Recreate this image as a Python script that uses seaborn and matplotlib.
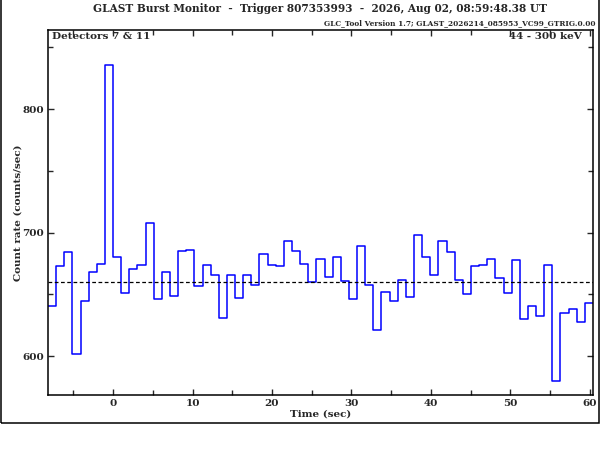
import numpy as np
import pandas as pd
import seaborn as sns
import matplotlib.pyplot as plt
from matplotlib.patches import Rectangle
from matplotlib.ticker import MultipleLocator

# bin edges (s) of the 1.024 s light curve, relative to trigger
bin_edges = [-8.192, -7.168, -6.144, -5.120, -4.096, -3.072, -2.048, -1.024,
             0.000, 1.024, 2.048, 3.072, 4.096, 5.120, 6.144, 7.168, 8.192,
             9.216, 10.240, 11.264, 12.288, 13.312, 14.336, 15.360, 16.384,
             17.408, 18.432, 19.456, 20.480, 21.504, 22.528, 23.552, 24.576,
             25.600, 26.624, 27.648, 28.672, 29.696, 30.720, 31.744, 32.768,
             33.792, 34.816, 35.840, 36.864, 37.888, 38.912, 39.936, 40.960,
             41.984, 43.008, 44.032, 45.056, 46.080, 47.104, 48.128, 49.152,
             50.176, 51.200, 52.224, 53.248, 54.272, 55.296, 56.320, 57.344,
             58.368, 59.392, 60.416]

# count rate per bin (counts/sec)
rates = [641, 673, 684, 602, 645, 668, 675, 836,
         680, 651, 671, 674, 708, 646, 668, 649, 685, 686,
         657, 674, 666, 631, 666, 647, 666, 658, 683, 674,
         673, 693, 685, 675, 660, 679, 664, 680, 661, 646,
         689, 658, 621, 652, 645, 662, 648, 698, 680, 666,
         693, 684, 662, 650, 673, 674, 679, 663, 651, 678,
         630, 641, 633, 674, 580, 635, 638, 628, 643]

background = 660

title = "GLAST Burst Monitor  -  Trigger 807353993  -  2026, Aug 02, 08:59:48.38 UT"
subtitle = "GLC_Tool Version 1.7; GLAST_2026214_085953_VC99_GTRIG.0.00"
det_label = "Detectors 7 & 11"
energy_label = "44 - 300 keV"

df = pd.DataFrame({"time": bin_edges, "rate": rates + [rates[-1]]})

sns.set_style("ticks")
plt.rcParams["font.family"] = ["DejaVu Serif"]
plt.rcParams["font.weight"] = "bold"

fig = plt.figure(figsize=(6, 4.5), dpi=100)
ax = fig.add_axes([0.08, 0.1222, 0.9083, 0.8111])

sns.lineplot(data=df, x="time", y="rate", drawstyle="steps-post",
             color="#0000ff", linewidth=1.1, ax=ax)
ax.axhline(background, color="black", linestyle=(0, (3, 2)), linewidth=0.9)

ax.set_xlim(-8.192, 60.416)
ax.set_ylim(568.7, 863.9)
ax.xaxis.set_major_locator(MultipleLocator(10))
ax.xaxis.set_minor_locator(MultipleLocator(5))
ax.yaxis.set_major_locator(MultipleLocator(100))
ax.yaxis.set_minor_locator(MultipleLocator(50))
ax.tick_params(which="both", direction="in", top=True, right=True,
               width=1.0, labelsize=7.5, pad=3)
ax.tick_params(which="major", length=4)
ax.tick_params(which="minor", length=3.5)
for s in ax.spines.values():
    s.set_linewidth(1.1)
    s.set_color("black")

ax.set_xlabel("Time (sec)", fontsize=7.5, fontweight="bold", va="center")
ax.set_ylabel("Count rate (counts/sec)", fontsize=7.5, fontweight="bold", va="center")
ax.xaxis.set_label_coords(0.5, -0.052)
ax.yaxis.set_label_coords(-0.055, 0.5)

ax.text(0.007, 0.981, det_label, transform=ax.transAxes, fontsize=7.5,
        fontweight="bold", ha="left", va="center")
ax.text(0.98, 0.981, energy_label, transform=ax.transAxes, fontsize=7.5,
        fontweight="bold", ha="right", va="center")

fig.text(0.534, 1 - 8.5 / 450, title, fontsize=7.6, fontweight="bold",
         ha="center", va="center")
fig.text(595 / 600, 1 - 23.5 / 450, subtitle, fontsize=5.3, fontweight="bold",
         ha="right", va="center")

fig.patches.append(Rectangle((0.0015, 0.06), 0.997, 0.96, transform=fig.transFigure,
                             fill=False, edgecolor="black", linewidth=1.1))

fig.savefig("out.png", dpi=100)
